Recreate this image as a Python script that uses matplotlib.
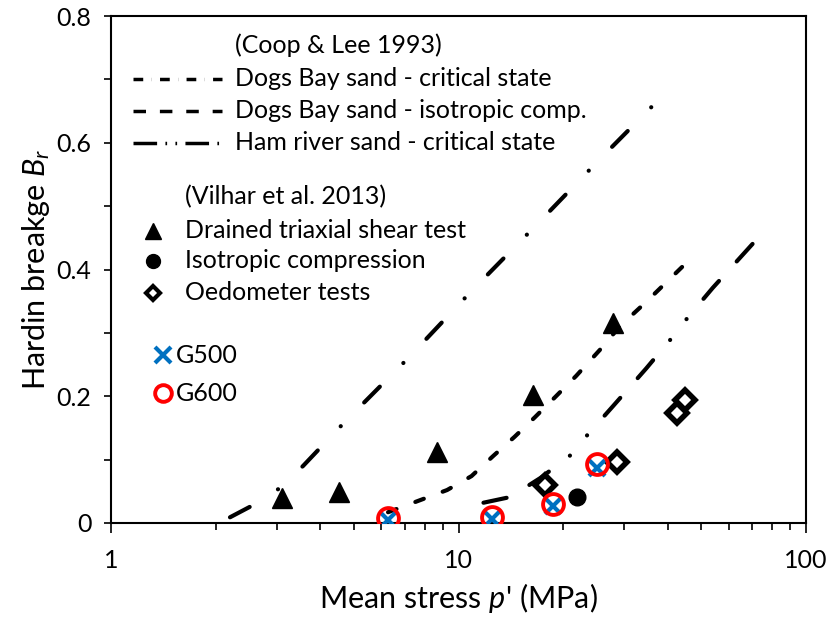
import numpy as np
import matplotlib
matplotlib.use('Agg')
import matplotlib.pyplot as plt
from matplotlib.ticker import FixedLocator, NullFormatter

plt.rcParams['font.family'] = ['Lato', 'DejaVu Sans']
plt.rcParams['mathtext.fontset'] = 'custom'
plt.rcParams['mathtext.rm'] = 'Lato'
plt.rcParams['mathtext.it'] = 'Lato:italic'
plt.rcParams['lines.scale_dashes'] = False

# curves (Coop & Lee 1993)
cs_dogs_p = [2.20, 2.56, 3.06, 3.57, 4.68, 7.16, 10.9, 16.6, 25.4, 38.8]
cs_dogs_b = [0.009, 0.028, 0.055, 0.090, 0.158, 0.260, 0.366, 0.468, 0.573, 0.675]

iso_dogs_p = [6.27, 7.75, 9.27, 10.9, 12.6, 14.5, 16.6, 19.0, 21.8, 25.5, 29.2, 34.7, 44.0]
iso_dogs_b = [0.017, 0.036, 0.052, 0.074, 0.106, 0.136, 0.167, 0.199, 0.232, 0.273, 0.311, 0.349, 0.404]

cs_ham_p = [11.8, 14.1, 17.2, 20.9, 23.5, 27.9, 34.7, 41.1, 45.8, 53.9, 71.7]
cs_ham_b = [0.032, 0.041, 0.071, 0.106, 0.139, 0.185, 0.244, 0.292, 0.325, 0.371, 0.446]

# Vilhar et al. 2013
tx_p = [3.11, 4.53, 8.67, 16.4, 27.8]
tx_b = [0.039, 0.049, 0.112, 0.202, 0.315]
iso_p = [21.9]
iso_b = [0.041]
oed_p = [17.7, 28.6, 42.5, 44.9]
oed_b = [0.060, 0.096, 0.173, 0.194]

# simulations
g500_p = [6.27, 12.5, 18.7, 25.0]
g500_b = [0.005, 0.007, 0.027, 0.087]
g600_p = [6.27, 12.5, 18.7, 25.0]
g600_b = [0.008, 0.009, 0.030, 0.093]

blue = '#0070C0'
red = '#FF0000'

fig = plt.figure(figsize=(8.31, 6.17), dpi=100)
ax = fig.add_axes([111/831, 94/617, 695/831, 507/617])

ax.plot(cs_dogs_p, cs_dogs_b, color='black', lw=3, dashes=[16, 24, 0.1, 24],
        dash_capstyle='round')
ax.plot(iso_dogs_p, iso_dogs_b, color='black', lw=3, dashes=[6.5, 14.5],
        dash_capstyle='round')
ax.plot(cs_ham_p, cs_ham_b, color='black', lw=3,
        dashes=[17, 19, 17, 19, 0.1, 19, 0.1, 19], dash_capstyle='round')

ax.plot(tx_p, tx_b, '^', color='black', ms=14, zorder=3)
ax.plot(iso_p, iso_b, 'o', color='black', ms=12, zorder=3)
ax.plot(oed_p, oed_b, 'D', mfc='white', mec='black', mew=4, ms=10, zorder=3)
ax.plot(g500_p, g500_b, 'x', color=blue, ms=11, mew=3, zorder=4)
ax.plot(g600_p, g600_b, 'o', mfc='none', mec=red, mew=2.8, ms=15, zorder=5)

ax.set_xscale('log')
ax.set_xlim(1, 100)
ax.set_ylim(0, 0.8)
ax.xaxis.set_major_locator(FixedLocator([1, 10, 100]))
ax.set_xticklabels(['1', '10', '100'])
ax.xaxis.set_minor_formatter(NullFormatter())
ax.set_yticks([0, 0.2, 0.4, 0.6, 0.8])
ax.set_yticklabels(['0', '0.2', '0.4', '0.6', '0.8'])
ax.set_yticks([0.1, 0.3, 0.5, 0.7], minor=True)

ax.tick_params(axis='x', which='major', direction='out', length=7, width=1.2,
               pad=12, labelsize=18)
ax.tick_params(axis='x', which='minor', direction='out', length=5, width=1.2)
ax.tick_params(axis='y', which='both', direction='out', length=5, width=1.2,
               pad=9, labelsize=18)
for s in ax.spines.values():
    s.set_linewidth(1.5)

ax.set_xlabel("Mean stress $p$' (MPa)", fontsize=22)
ax.set_ylabel("Hardin breakge $B_r$", fontsize=22)
ax.xaxis.set_label_coords(0.5, -0.115)
ax.yaxis.set_label_coords(-0.085, 0.5)

# legend drawn by hand
T = ax.transAxes
fs = 18
ax.text(0.178, 0.943, '(Coop & Lee 1993)', transform=T, fontsize=fs, va='center')
ax.plot([0.032, 0.160], [0.876, 0.876], transform=T, color='black', lw=2.5,
        dashes=[7, 6, 0.1, 6], dash_capstyle='butt')
ax.plot([0.032, 0.160], [0.813, 0.813], transform=T, color='black', lw=2.5,
        dashes=[9, 10], dash_capstyle='butt')
ax.plot([0.032, 0.160], [0.750, 0.750], transform=T, color='black', lw=2.5,
        dashes=[17, 6, 1.2, 6, 1.2, 6], dash_capstyle='butt')
ax.text(0.178, 0.876, 'Dogs Bay sand - critical state', transform=T, fontsize=fs, va='center')
ax.text(0.178, 0.813, 'Dogs Bay sand - isotropic comp.', transform=T, fontsize=fs, va='center')
ax.text(0.178, 0.750, 'Ham river sand - critical state', transform=T, fontsize=fs, va='center')

ax.text(0.1065, 0.643, '(Vilhar et al. 2013)', transform=T, fontsize=fs, va='center')
ax.plot([0.060], [0.576], '^', transform=T, color='black', ms=11)
ax.plot([0.060], [0.517], 'o', transform=T, color='black', ms=10)
ax.plot([0.060], [0.454], 'D', transform=T, mfc='white', mec='black', mew=3, ms=7)
ax.text(0.1065, 0.576, 'Drained triaxial shear test', transform=T, fontsize=fs, va='center')
ax.text(0.1065, 0.517, 'Isotropic compression', transform=T, fontsize=fs, va='center')
ax.text(0.1065, 0.454, 'Oedometer tests', transform=T, fontsize=fs, va='center')

ax.plot([0.075], [0.331], 'x', transform=T, color=blue, ms=11, mew=3)
ax.plot([0.075], [0.256], 'o', transform=T, mfc='none', mec=red, mew=2.8, ms=12)
ax.text(0.094, 0.331, 'G500', transform=T, fontsize=fs, va='center')
ax.text(0.094, 0.256, 'G600', transform=T, fontsize=fs, va='center')

fig.savefig('out.png', dpi=100)
